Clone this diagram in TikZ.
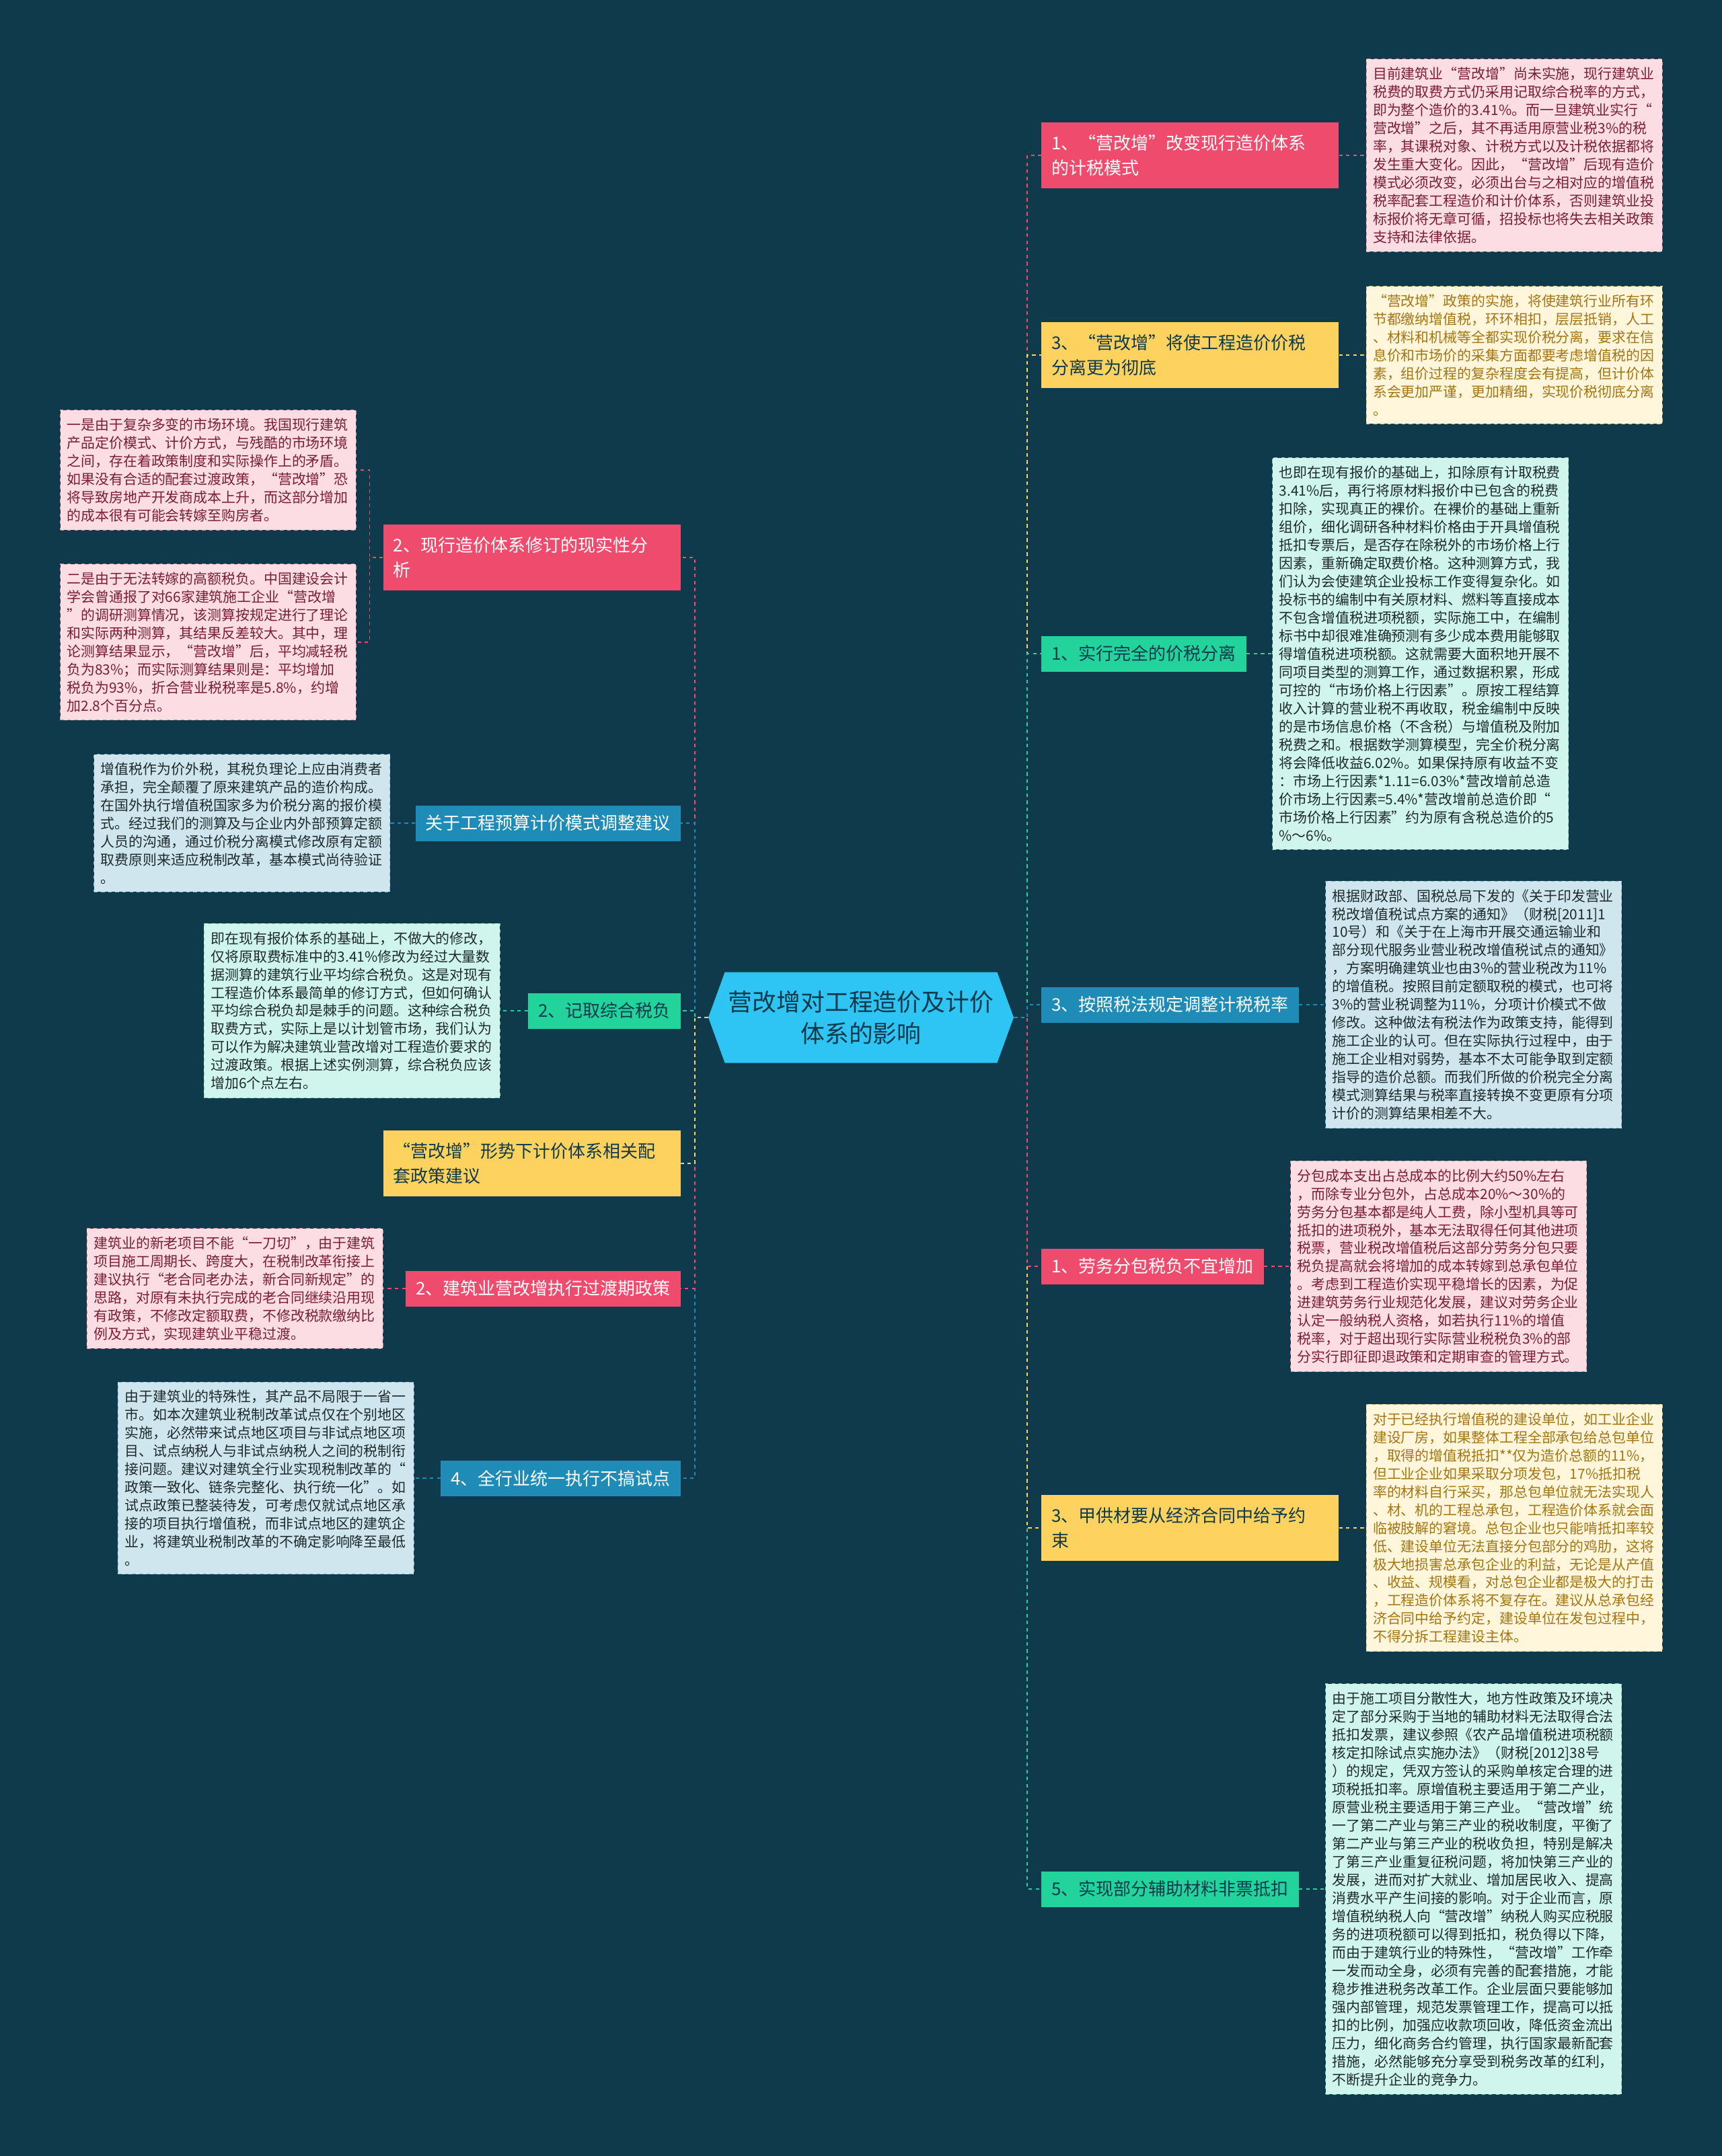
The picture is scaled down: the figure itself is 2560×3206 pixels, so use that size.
\documentclass[tikz,border=0pt]{standalone}
\usepackage{fontspec}
\setmainfont{Noto Sans CJK SC}
\usetikzlibrary{positioning,shapes.symbols}
\definecolor{grund}{HTML}{0E3A4B}
\definecolor{rot}{HTML}{EF4B6C}
\definecolor{gelb}{HTML}{FDD25E}
\definecolor{gruen}{HTML}{22D39B}
\definecolor{blau}{HTML}{1E8CB6}
\definecolor{zentrum}{HTML}{2EC4F3}
\definecolor{rosa}{HTML}{FCDDE4}
\definecolor{creme}{HTML}{FFF6DC}
\definecolor{mint}{HTML}{CFF5EC}
\definecolor{hblau}{HTML}{CFE6EF}
\definecolor{rosarand}{HTML}{D98C9D}
\definecolor{cremerand}{HTML}{D8BF7A}
\definecolor{mintrand}{HTML}{7FC9B8}
\definecolor{hblaurand}{HTML}{86B4C4}
\definecolor{weinrot}{HTML}{7A1D35}
\definecolor{ocker}{HTML}{A47510}
\definecolor{dunkel}{HTML}{1E2A2C}
\tikzset{
  mitte/.style={signal,signal to=west and east,signal pointer angle=140,fill=zentrum,text=grund,
    minimum width=9.08cm,minimum height=2.7cm,align=center,inner sep=0pt,
    font=\fontsize{20.4}{26.7}\selectfont},
  ast/.style={inner xsep=0.3cm,inner ysep=0pt,minimum height=1.06cm,align=left,
    font=\fontsize{14.8}{21}\selectfont},
  astzwei/.style={ast,text width=8.24cm,minimum height=1.96cm},
  arot/.style={fill=rot,text=white},
  agelb/.style={fill=gelb,text=grund},
  agruen/.style={fill=gruen,text=grund},
  ablau/.style={fill=blau,text=white},
  blatt/.style={text width=8.4cm,inner xsep=0.2cm,inner ysep=0.24cm,align=left,
    font=\fontsize{11.9}{15.36}\selectfont,draw,dashed,line width=0.6pt},
  brosa/.style={blatt,fill=rosa,draw=rosarand,text=weinrot},
  bcreme/.style={blatt,fill=creme,draw=cremerand,text=ocker},
  bmint/.style={blatt,fill=mint,draw=mintrand,text=dunkel},
  bhblau/.style={blatt,fill=hblau,draw=hblaurand,text=dunkel},
  linie/.style={dashed,line width=1pt},
}
\begin{document}
\begin{tikzpicture}[x=0.02cm,y=-0.02cm]
  % ===== Hintergrund =====
  \fill[grund] (0,0) rectangle (2560,3206);
  \node[mitte] (mitte) at (1280,1513) {营改增对工程造价及计价\\体系的影响};
  % ===== rechte Äste =====
  \node[astzwei,arot,anchor=west] (r1) at (1548,231) {1、“营改增”改变现行造价体系\\的计税模式};
  \node[astzwei,agelb,anchor=west] (r2) at (1548,528) {3、“营改增”将使工程造价价税\\分离更为彻底};
  \node[ast,agruen,anchor=west] (r3) at (1548,972) {1、实行完全的价税分离};
  \node[ast,ablau,anchor=west] (r4) at (1548,1494) {3、按照税法规定调整计税税率};
  \node[ast,arot,anchor=west] (r5) at (1548,1883) {1、劳务分包税负不宜增加};
  \node[astzwei,agelb,anchor=west] (r6) at (1548,2272) {3、甲供材要从经济合同中给予约\\束};
  \node[ast,agruen,anchor=west] (r7) at (1548,2809) {5、实现部分辅助材料非票抵扣};
  % ===== linke Äste =====
  \node[astzwei,arot,anchor=east] (l1) at (1012,829) {2、现行造价体系修订的现实性分\\析};
  \node[ast,ablau,anchor=east] (l2) at (1012,1224) {关于工程预算计价模式调整建议};
  \node[ast,agruen,anchor=east] (l3) at (1012,1503) {2、记取综合税负};
  \node[astzwei,agelb,anchor=east] (l4) at (1012,1730) {“营改增”形势下计价体系相关配\\套政策建议};
  \node[ast,arot,anchor=east] (l5) at (1012,1916) {2、建筑业营改增执行过渡期政策};
  \node[ast,ablau,anchor=east] (l6) at (1012,2198) {4、全行业统一执行不搞试点};
  % ===== Blätter rechts =====
  \node[brosa,right=0.8cm of r1] (rt1) {目前建筑业“营改增”尚未实施，现行建筑业\\税费的取费方式仍采用记取综合税率的方式，\\即为整个造价的3.41\%。而一旦建筑业实行“\\营改增”之后，其不再适用原营业税3\%的税\\率，其课税对象、计税方式以及计税依据都将\\发生重大变化。因此，“营改增”后现有造价\\模式必须改变，必须出台与之相对应的增值税\\税率配套工程造价和计价体系，否则建筑业投\\标报价将无章可循，招投标也将失去相关政策\\支持和法律依据。};
  \node[bcreme,right=0.8cm of r2] (rt2) {“营改增”政策的实施，将使建筑行业所有环\\节都缴纳增值税，环环相扣，层层抵销，人工\\、材料和机械等全都实现价税分离，要求在信\\息价和市场价的采集方面都要考虑增值税的因\\素，组价过程的复杂程度会有提高，但计价体\\系会更加严谨，更加精细，实现价税彻底分离\\。};
  \node[bmint,right=0.76cm of r3] (rt3) {也即在现有报价的基础上，扣除原有计取税费\\3.41\%后，再行将原材料报价中已包含的税费\\扣除，实现真正的裸价。在裸价的基础上重新\\组价，细化调研各种材料价格由于开具增值税\\抵扣专票后，是否存在除税外的市场价格上行\\因素，重新确定取费价格。这种测算方式，我\\们认为会使建筑企业投标工作变得复杂化。如\\投标书的编制中有关原材料、燃料等直接成本\\不包含增值税进项税额，实际施工中，在编制\\标书中却很难准确预测有多少成本费用能够取\\得增值税进项税额。这就需要大面积地开展不\\同项目类型的测算工作，通过数据积累，形成\\可控的“市场价格上行因素”。原按工程结算\\收入计算的营业税不再收取，税金编制中反映\\的是市场信息价格（不含税）与增值税及附加\\税费之和。根据数学测算模型，完全价税分离\\将会降低收益6.02\%。如果保持原有收益不变\\：市场上行因素*1.11=6.03\%*营改增前总造\\价市场上行因素=5.4\%*营改增前总造价即“\\市场价格上行因素”约为原有含税总造价的5\\\%～6\%。};
  \node[bhblau,right=0.78cm of r4] (rt4) {根据财政部、国税总局下发的《关于印发营业\\税改增值税试点方案的通知》（财税[2011]1\\10号）和《关于在上海市开展交通运输业和\\部分现代服务业营业税改增值税试点的通知》\\，方案明确建筑业也由3\%的营业税改为11\%\\的增值税。按照目前定额取税的模式，也可将\\3\%的营业税调整为11\%，分项计价模式不做\\修改。这种做法有税法作为政策支持，能得到\\施工企业的认可。但在实际执行过程中，由于\\施工企业相对弱势，基本不太可能争取到定额\\指导的造价总额。而我们所做的价税完全分离\\模式测算结果与税率直接转换不变更原有分项\\计价的测算结果相差不大。};
  \node[brosa,right=0.78cm of r5] (rt5) {分包成本支出占总成本的比例大约50\%左右\\，而除专业分包外，占总成本20\%～30\%的\\劳务分包基本都是纯人工费，除小型机具等可\\抵扣的进项税外，基本无法取得任何其他进项\\税票，营业税改增值税后这部分劳务分包只要\\税负提高就会将增加的成本转嫁到总承包单位\\。考虑到工程造价实现平稳增长的因素，为促\\进建筑劳务行业规范化发展，建议对劳务企业\\认定一般纳税人资格，如若执行11\%的增值\\税率，对于超出现行实际营业税税负3\%的部\\分实行即征即退政策和定期审查的管理方式。};
  \node[bcreme,right=0.8cm of r6] (rt6) {对于已经执行增值税的建设单位，如工业企业\\建设厂房，如果整体工程全部承包给总包单位\\，取得的增值税抵扣**仅为造价总额的11\%，\\但工业企业如果采取分项发包，17\%抵扣税\\率的材料自行采买，那总包单位就无法实现人\\、材、机的工程总承包，工程造价体系就会面\\临被肢解的窘境。总包企业也只能啃抵扣率较\\低、建设单位无法直接分包部分的鸡肋，这将\\极大地损害总承包企业的利益，无论是从产值\\、收益、规模看，对总包企业都是极大的打击\\，工程造价体系将不复存在。建议从总承包经\\济合同中给予约定，建设单位在发包过程中，\\不得分拆工程建设主体。};
  \node[bmint,right=0.78cm of r7] (rt7) {由于施工项目分散性大，地方性政策及环境决\\定了部分采购于当地的辅助材料无法取得合法\\抵扣发票，建议参照《农产品增值税进项税额\\核定扣除试点实施办法》（财税[2012]38号\\）的规定，凭双方签认的采购单核定合理的进\\项税抵扣率。原增值税主要适用于第二产业，\\原营业税主要适用于第三产业。“营改增”统\\一了第二产业与第三产业的税收制度，平衡了\\第二产业与第三产业的税收负担，特别是解决\\了第三产业重复征税问题，将加快第三产业的\\发展，进而对扩大就业、增加居民收入、提高\\消费水平产生间接的影响。对于企业而言，原\\增值税纳税人向“营改增”纳税人购买应税服\\务的进项税额可以得到抵扣，税负得以下降，\\而由于建筑行业的特殊性，“营改增”工作牵\\一发而动全身，必须有完善的配套措施，才能\\稳步推进税务改革工作。企业层面只要能够加\\强内部管理，规范发票管理工作，提高可以抵\\扣的比例，加强应收款项回收，降低资金流出\\压力，细化商务合约管理，执行国家最新配套\\措施，必然能够充分享受到税务改革的红利，\\不断提升企业的竞争力。};
  % ===== Blätter links =====
  \node[brosa,anchor=north east] (lt1a) at (530,609) {一是由于复杂多变的市场环境。我国现行建筑\\产品定价模式、计价方式，与残酷的市场环境\\之间，存在着政策制度和实际操作上的矛盾。\\如果没有合适的配套过渡政策，“营改增”恐\\将导致房地产开发商成本上升，而这部分增加\\的成本很有可能会转嫁至购房者。};
  \node[brosa,anchor=north east] (lt1b) at (530,838) {二是由于无法转嫁的高额税负。中国建设会计\\学会曾通报了对66家建筑施工企业“营改增\\”的调研测算情况，该测算按规定进行了理论\\和实际两种测算，其结果反差较大。其中，理\\论测算结果显示，“营改增”后，平均减轻税\\负为83\%；而实际测算结果则是：平均增加\\税负为93\%，折合营业税税率是5.8\%，约增\\加2.8个百分点。};
  \node[bhblau,left=0.74cm of l2] (lt2) {增值税作为价外税，其税负理论上应由消费者\\承担，完全颠覆了原来建筑产品的造价构成。\\在国外执行增值税国家多为价税分离的报价模\\式。经过我们的测算及与企业内外部预算定额\\人员的沟通，通过价税分离模式修改原有定额\\取费原则来适应税制改革，基本模式尚待验证\\。};
  \node[bmint,left=0.82cm of l3] (lt3) {即在现有报价体系的基础上，不做大的修改，\\仅将原取费标准中的3.41\%修改为经过大量数\\据测算的建筑行业平均综合税负。这是对现有\\工程造价体系最简单的修订方式，但如何确认\\平均综合税负却是棘手的问题。这种综合税负\\取费方式，实际上是以计划管市场，我们认为\\可以作为解决建筑业营改增对工程造价要求的\\过渡政策。根据上述实例测算，综合税负应该\\增加6个点左右。};
  \node[brosa,left=0.66cm of l5] (lt4) {建筑业的新老项目不能“一刀切”，由于建筑\\项目施工周期长、跨度大，在税制改革衔接上\\建议执行“老合同老办法，新合同新规定”的\\思路，对原有未执行完成的老合同继续沿用现\\有政策，不修改定额取费，不修改税款缴纳比\\例及方式，实现建筑业平稳过渡。};
  \node[bhblau,left=0.78cm of l6] (lt5) {由于建筑业的特殊性，其产品不局限于一省一\\市。如本次建筑业税制改革试点仅在个别地区\\实施，必然带来试点地区项目与非试点地区项\\目、试点纳税人与非试点纳税人之间的税制衔\\接问题。建议对建筑全行业实现税制改革的“\\政策一致化、链条完整化、执行统一化”。如\\试点政策已整装待发，可考虑仅就试点地区承\\接的项目执行增值税，而非试点地区的建筑企\\业，将建筑业税制改革的不确定影响降至最低\\。};
  % ===== Verbindungen Mitte -- Äste =====
  \foreach \n/\f in {r1/rot,r2/gelb,r3/gruen,r7/gruen,r6/gelb,r5/rot,r4/blau}
    \draw[linie,\f] (mitte.east) -- ++(20,0) |- (\n.west);
  \foreach \n/\f in {l1/rot,l2/blau,l3/gruen,l6/blau,l5/rot,l4/gelb}
    \draw[linie,\f] (mitte.west) -- ++(-20,0) |- (\n.east);
  % ===== Verbindungen Äste -- Blätter =====
  \foreach \a/\b/\f in {r1/rt1/rot,r2/rt2/gelb,r3/rt3/gruen,r4/rt4/blau,r5/rt5/rot,r6/rt6/gelb,r7/rt7/gruen}
    \draw[linie,\f] (\a.east) -- (\b.west);
  \foreach \a/\b/\f in {l2/lt2/blau,l3/lt3/gruen,l5/lt4/rot,l6/lt5/blau}
    \draw[linie,\f] (\a.west) -- (\b.east);
  \foreach \b in {lt1a,lt1b}
    \draw[linie,rot] (l1.west) -- ++(-20,0) |- (\b.east);
\end{tikzpicture}
\end{document}
